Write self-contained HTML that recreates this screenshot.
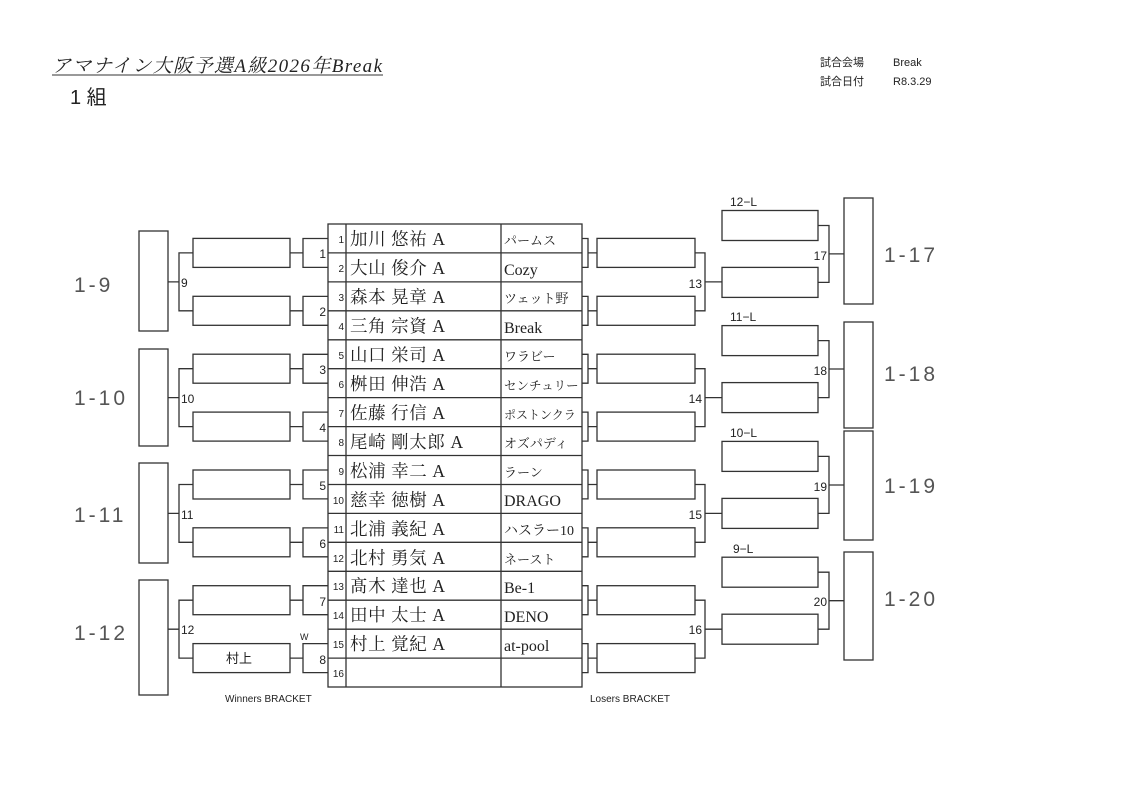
<!DOCTYPE html>
<html><head><meta charset="utf-8"><style>
html,body{margin:0;padding:0;background:#fff;}
svg{display:block}
.s{font-family:"Liberation Sans","Noto Sans CJK JP",sans-serif;}
.f{font-family:"Liberation Serif","Noto Serif CJK SC",serif;}
</style></head><body>
<svg width="1123" height="794" viewBox="0 0 1123 794" xmlns="http://www.w3.org/2000/svg">
<rect width="1123" height="794" fill="#fff"/>
<text x="52" y="72" class="f" font-size="19" font-style="italic" fill="#222" textLength="330">アマナイン大阪予選A級2026年Break</text>
<line x1="52" y1="75" x2="383" y2="75" stroke="#333" stroke-width="1"/>
<text x="70" y="104" class="s" font-size="20" fill="#222">1 組</text>
<text x="820" y="66" class="s" font-size="11" fill="#222">試合会場</text>
<text x="893" y="66" class="s" font-size="11" fill="#222">Break</text>
<text x="820" y="85" class="s" font-size="11" fill="#222">試合日付</text>
<text x="893" y="85" class="s" font-size="11" fill="#222">R8.3.29</text>

<g fill="none" stroke="#333" stroke-width="1.3">
<rect x="328" y="224" width="254" height="463"/>
<line x1="346" y1="224" x2="346" y2="687"/>
<line x1="501" y1="224" x2="501" y2="687"/>
<path d="M328 252.9H582M328 281.9H582M328 310.8H582M328 339.8H582M328 368.7H582M328 397.6H582M328 426.6H582M328 455.5H582M328 484.5H582M328 513.4H582M328 542.3H582M328 571.3H582M328 600.2H582M328 629.2H582M328 658.1H582"/>
<path d="M290 252.9H303M328 238.5H303V267.4H328
M290 310.8H303M328 296.4H303V325.3H328
M290 368.7H303M328 354.3H303V383.2H328
M290 426.6H303M328 412.1H303V441.1H328
M290 484.5H303M328 470H303V498.9H328
M290 542.3H303M328 527.9H303V556.8H328
M290 600.2H303M328 585.7H303V614.7H328
M290 658.1H303M328 643.6H303V672.6H328"/>
<rect x="193" y="238.4" width="97" height="29"/>
<rect x="193" y="296.3" width="97" height="29"/>
<rect x="193" y="354.2" width="97" height="29"/>
<rect x="193" y="412.1" width="97" height="29"/>
<rect x="193" y="470" width="97" height="29"/>
<rect x="193" y="527.8" width="97" height="29"/>
<rect x="193" y="585.7" width="97" height="29"/>
<rect x="193" y="643.6" width="97" height="29"/>
<path d="M168 281.9H179M193 252.9H179V310.8H193
M168 397.6H179M193 368.7H179V426.6H193
M168 513.4H179M193 484.5H179V542.3H193
M168 629.2H179M193 600.2H179V658.1H193"/>
<rect x="139" y="231" width="29" height="100"/>
<rect x="139" y="349" width="29" height="97"/>
<rect x="139" y="463" width="29" height="100"/>
<rect x="139" y="580" width="29" height="115"/>
<path d="M582 238.5H588V267.4H582M588 252.9H597
M582 296.4H588V325.3H582M588 310.8H597
M582 354.3H588V383.2H582M588 368.7H597
M582 412.1H588V441.1H582M588 426.6H597
M582 470H588V498.9H582M588 484.5H597
M582 527.9H588V556.8H582M588 542.3H597
M582 585.7H588V614.7H582M588 600.2H597
M582 643.6H588V672.6H582M588 658.1H597"/>
<rect x="597" y="238.4" width="98" height="29"/>
<rect x="597" y="296.3" width="98" height="29"/>
<rect x="597" y="354.2" width="98" height="29"/>
<rect x="597" y="412.1" width="98" height="29"/>
<rect x="597" y="470" width="98" height="29"/>
<rect x="597" y="527.8" width="98" height="29"/>
<rect x="597" y="585.7" width="98" height="29"/>
<rect x="597" y="643.6" width="98" height="29"/>
<path d="M695 252.9H705V310.8H695M705 281.9H722
M695 368.7H705V426.6H695M705 397.6H722
M695 484.5H705V542.3H695M705 513.4H722
M695 600.2H705V658.1H695M705 629.2H722"/>
<rect x="722" y="210.5" width="96" height="30"/>
<rect x="722" y="267.4" width="96" height="30"/>
<rect x="722" y="325.6" width="96" height="30"/>
<rect x="722" y="382.6" width="96" height="30"/>
<rect x="722" y="441.4" width="96" height="30"/>
<rect x="722" y="498.4" width="96" height="30"/>
<rect x="722" y="557.2" width="96" height="30"/>
<rect x="722" y="614.2" width="96" height="30"/>
<path d="M818 225.5H829V282.4H818M829 253.9H844
M818 340.6H829V397.6H818M829 369H844
M818 456.4H829V513.4H818M829 485H844
M818 572.2H829V629.2H818M829 600.7H844"/>
<rect x="844" y="198" width="29" height="106"/>
<rect x="844" y="322" width="29" height="106"/>
<rect x="844" y="431" width="29" height="109"/>
<rect x="844" y="552" width="29" height="108"/>
</g>

<g class="s" font-size="12" fill="#222" text-anchor="end">
<text x="326" y="258">1</text><text x="326" y="316">2</text><text x="326" y="374">3</text><text x="326" y="432">4</text>
<text x="326" y="490">5</text><text x="326" y="548">6</text><text x="326" y="606">7</text><text x="326" y="664">8</text>
<text x="702" y="288">13</text><text x="702" y="403">14</text><text x="702" y="519">15</text><text x="702" y="634">16</text>
<text x="827" y="260">17</text><text x="827" y="375">18</text><text x="827" y="491">19</text><text x="827" y="606">20</text>
</g>
<g class="s" font-size="12" fill="#222">
<text x="181" y="287">9</text><text x="181" y="403">10</text><text x="181" y="519">11</text><text x="181" y="634">12</text>
<text x="730" y="206">12−L</text><text x="730" y="321">11−L</text><text x="730" y="437">10−L</text><text x="733" y="553">9−L</text>
<text x="226" y="663" font-size="13">村上</text>
<text x="300" y="640" font-size="9">W</text>
<text x="225" y="702" font-size="10">Winners BRACKET</text>
<text x="590" y="702" font-size="10">Losers BRACKET</text>
</g>
<g class="s" font-size="10" fill="#222" text-anchor="end">
<text x="344" y="243">1</text><text x="344" y="272">2</text><text x="344" y="301">3</text><text x="344" y="330">4</text>
<text x="344" y="359">5</text><text x="344" y="388">6</text><text x="344" y="417">7</text><text x="344" y="446">8</text>
<text x="344" y="475">9</text><text x="344" y="504">10</text><text x="344" y="533">11</text><text x="344" y="562">12</text>
<text x="344" y="590">13</text><text x="344" y="619">14</text><text x="344" y="648">15</text><text x="344" y="677">16</text>
</g>
<g class="f" font-size="17.5" fill="#222" letter-spacing="0.6">
<text x="350" y="245">加川 悠祐 A</text><text x="350" y="274">大山 俊介 A</text><text x="350" y="303">森本 晃章 A</text><text x="350" y="332">三角 宗資 A</text>
<text x="350" y="361">山口 栄司 A</text><text x="350" y="390">桝田 伸浩 A</text><text x="350" y="419">佐藤 行信 A</text><text x="350" y="448">尾崎 剛太郎 A</text>
<text x="350" y="477">松浦 幸二 A</text><text x="350" y="506">慈幸 徳樹 A</text><text x="350" y="535">北浦 義紀 A</text><text x="350" y="564">北村 勇気 A</text>
<text x="350" y="592">髙木 達也 A</text><text x="350" y="621">田中 太士 A</text><text x="350" y="650">村上 覚紀 A</text>
</g>
<g class="f" font-size="16" fill="#222">
<text x="504" y="245" font-size="13">パームス</text><text x="504" y="275">Cozy</text><text x="504" y="303" font-size="13">ツェット野</text><text x="504" y="333">Break</text>
<text x="504" y="361" font-size="13">ワラビー</text><text x="504" y="390" font-size="12.5">センチュリー</text><text x="504" y="419" font-size="12">ポストンクラ</text><text x="504" y="448" font-size="13">オズパディ</text>
<text x="504" y="477" font-size="13">ラーン</text><text x="504" y="506">DRAGO</text><text x="504" y="535" font-size="14">ハスラー10</text><text x="504" y="564" font-size="13">ネースト</text>
<text x="504" y="593">Be-1</text><text x="504" y="622">DENO</text><text x="504" y="651">at-pool</text>
</g>
<g class="s" font-size="21" fill="#555" font-weight="normal" letter-spacing="3">
<text x="74" y="292">1-9</text><text x="74" y="405">1-10</text><text x="74" y="522">1-11</text><text x="74" y="640">1-12</text>
<text x="884" y="262">1-17</text><text x="884" y="381">1-18</text><text x="884" y="493">1-19</text><text x="884" y="606">1-20</text>
</g>
</svg>
</body></html>
